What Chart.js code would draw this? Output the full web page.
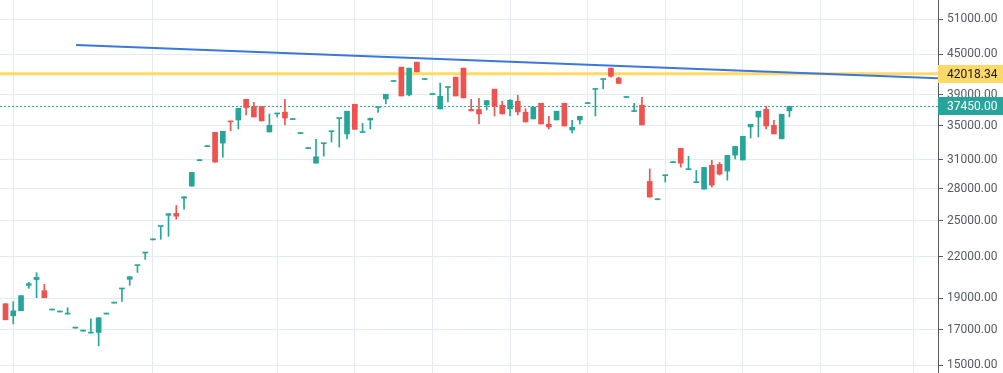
<!DOCTYPE html>
<html>
<head>
<meta charset="utf-8">
<script src="https://cdn.jsdelivr.net/npm/chart.js@4"></script>
<style>
    html, body { margin: 0; padding: 0; background: #ffffff; }
    #wrap { width: 1003px; height: 373px; position: relative; }
</style>
</head>
<body>
<div id="wrap"><canvas id="chart"></canvas></div>
<script>
// candle values (one per bar)
const opens = [
    18650, 17870, 18190, 19900, 20310, 19530, 18240, 18110, 17980, 17110,
    16930, 16810, 16850, 17980, 18690, 19650, 20330, 21340, 22310, 23370,
    24500, 25490, 25660, 27080, 28260, 30920, 32490, 34180, 32900, 35540,
    35700, 38410, 37440, 37440, 34220, 36470, 36690, 35750, 34020, 32260,
    30650, 32830, 34250, 35880, 33980, 37740, 34150, 35700, 37300, 38450,
    40900, 43030, 39000, 43790, 41190, 39060, 37120, 40040, 41530, 42880,
    37040, 37040, 37650, 39800, 37610, 37120, 38140, 36690, 35830, 37870,
    35160, 35700, 37870, 34460, 35700, 37830, 39770, 41190, 42880, 41400,
    38650, 36780, 37610, 28730, 26930, 29320, 30700, 32290, 29950, 28610,
    27960, 30410, 30520, 29800, 31530, 30990, 34830, 36080, 37080, 35040,
    33400, 36860,
];
const highs = [
    18650, 18780, 19190, 20110, 20810, 19970, 18240, 18110, 18390, 17110,
    16930, 17680, 17750, 17980, 18690, 19650, 20520, 21340, 22310, 23370,
    24500, 25630, 26390, 27220, 29660, 30920, 32490, 34180, 34300, 35540,
    37210, 38410, 38010, 37440, 36470, 36560, 38410, 35750, 34020, 32260,
    33340, 32830, 34250, 35880, 36820, 37740, 35290, 35920, 37300, 39100,
    40900, 43030, 42880, 43790, 41190, 39060, 40660, 40040, 41530, 42880,
    38410, 38540, 38230, 39800, 38140, 38370, 38960, 37170, 37380, 37870,
    36170, 36820, 37870, 35660, 36170, 37830, 39770, 41190, 42880, 41530,
    38650, 37870, 38690, 30030, 26930, 29320, 30700, 32290, 31390, 29870,
    30190, 30950, 30730, 31500, 32520, 33700, 35160, 36820, 37480, 35660,
    36430, 37480,
];
const lows = [
    17620, 17370, 18190, 19690, 19050, 19050, 18240, 18110, 17980, 17110,
    16930, 16810, 16070, 17980, 18690, 18800, 19900, 20830, 21810, 23370,
    23420, 23660, 25140, 26050, 28260, 30920, 32490, 30760, 31310, 34340,
    34580, 36340, 36080, 35580, 34220, 36080, 35080, 35750, 34020, 32260,
    30650, 31420, 33020, 32440, 33400, 34540, 34150, 34580, 36650, 37780,
    40900, 38860, 38860, 42320, 41190, 39060, 37120, 38050, 38860, 38600,
    36860, 35200, 36990, 36210, 36470, 36210, 36340, 35450, 35830, 35200,
    34580, 35700, 34950, 34090, 35200, 37830, 36210, 39840, 41530, 40620,
    38650, 36780, 35080, 27190, 26930, 28670, 30700, 30220, 29950, 28610,
    27960, 28160, 29380, 28860, 31120, 30990, 33500, 33620, 34580, 33980,
    33400, 36080,
];
const closes = [
    17620, 18190, 19190, 20020, 20470, 19050, 18240, 18110, 17980, 17110,
    16930, 16810, 17750, 17980, 18690, 19650, 20520, 21340, 22310, 23370,
    24500, 25630, 25410, 27220, 29660, 30920, 32490, 30760, 34300, 35460,
    37210, 37300, 36080, 35580, 35040, 36560, 35950, 35750, 34020, 32260,
    31350, 32830, 34250, 35880, 36820, 34540, 34150, 35920, 37300, 39100,
    40900, 38860, 42880, 42320, 41190, 39060, 38820, 40040, 38860, 38600,
    36860, 36470, 38230, 37480, 36470, 38280, 36730, 35450, 37380, 35200,
    34830, 36820, 34950, 34790, 36170, 37830, 39770, 41190, 41660, 40620,
    38650, 36780, 35080, 27190, 26930, 29320, 30700, 30650, 29950, 28610,
    30190, 28360, 29480, 31500, 32520, 33700, 35160, 36820, 34950, 33980,
    36430, 37450,
];

const yTicks = [15000, 17000, 19000, 22000, 25000, 28000, 31000, 35000, 39000, 45000, 51000];
const xGridAt = [1, 19, 35, 45, 55, 65, 75, 85, 95, 105, 117];

const trendX = [9.1, 120.2];
const trendY = [46510, 41370];
const levelLine = 42018.34;
const lastPrice = 37450;

const UP = '#26a69a';
const DOWN = '#ef5350';
const GRID = '#e3ebf1';

const candleColors = opens.map((o, i) => (closes[i] < o ? DOWN : UP));
const bodies = opens.map((o, i) => ({ x: i, y: [o, closes[i]] }));
const wicks = lows.map((l, i) => ({ x: i, y: [l, highs[i]] }));

const xMin = -0.71;
const xMax = 120.14;

const priceBadges = {
    id: 'priceBadges',
    afterDraw(chart) {
        const ctx = chart.ctx;
        const y = chart.scales.y;
        const left = chart.chartArea.right;
        const badges = [
            { value: levelLine, bg: '#ffd966', fg: '#131722' },
            { value: lastPrice, bg: UP, fg: '#ffffff' },
        ];
        ctx.save();
        badges.forEach((b) => {
            const py = y.getPixelForValue(b.value);
            ctx.fillStyle = b.bg;
            ctx.fillRect(left, Math.round(py) - 9, chart.width - left, 18);
            ctx.fillStyle = b.fg;
            ctx.font = '12px Roboto, sans-serif';
            ctx.textBaseline = 'middle';
            ctx.textAlign = 'left';
            ctx.fillText(b.value.toFixed(2), left + 9, Math.round(py) + 0.5);
        });
        ctx.restore();
    },
};

function initChart() {
    const canvas = document.getElementById('chart');

    // eslint-disable-next-line no-new
    new Chart(canvas, {
        type: 'bar',
        data: {
            datasets: [
                {
                    type: 'line',
                    data: trendX.map((x, i) => ({ x, y: trendY[i] })),
                    borderColor: '#3b78db',
                    borderWidth: 2,
                    pointRadius: 0,
                    order: 5,
                },
                {
                    type: 'line',
                    data: [{ x: xMin, y: levelLine }, { x: xMax, y: levelLine }],
                    borderColor: 'rgba(255, 214, 90, 0.9)',
                    borderWidth: 3,
                    pointRadius: 0,
                    order: 6,
                },
                {
                    type: 'line',
                    data: [{ x: xMin, y: lastPrice }, { x: xMax, y: lastPrice }],
                    borderColor: UP,
                    borderWidth: 1,
                    borderDash: [2, 2],
                    pointRadius: 0,
                    order: 4,
                },
                {
                    data: wicks,
                    backgroundColor: candleColors,
                    barThickness: 1,
                    minBarLength: 1,
                    grouped: false,
                    order: 2,
                },
                {
                    data: bodies,
                    backgroundColor: candleColors,
                    barThickness: 5,
                    minBarLength: 1,
                    grouped: false,
                    order: 1,
                },
            ],
        },
        options: {
            responsive: true,
            maintainAspectRatio: false,
            animation: false,
            layout: { padding: 0 },
            plugins: {
                legend: { display: false },
                tooltip: { enabled: false },
            },
            scales: {
                x: {
                    type: 'linear',
                    min: xMin,
                    max: xMax,
                    offset: false,
                    afterBuildTicks: (scale) => {
                        scale.ticks = xGridAt.map((v) => ({ value: v }));
                    },
                    afterFit: (scale) => {
                        scale.height = 0;
                        scale.paddingLeft = 0;
                        scale.paddingRight = 0;
                    },
                    ticks: { display: false },
                    grid: { color: GRID, drawTicks: false, offset: false },
                    border: { display: false },
                },
                y: {
                    type: 'logarithmic',
                    position: 'right',
                    min: 14600,
                    max: 54550,
                    afterBuildTicks: (scale) => {
                        scale.ticks = yTicks.map((v) => ({ value: v }));
                    },
                    afterFit: (scale) => {
                        scale.width = 65;
                        scale.paddingTop = 0;
                        scale.paddingBottom = 0;
                    },
                    ticks: {
                        color: '#555a63',
                        font: { family: 'Roboto', size: 12 },
                        padding: 4,
                        autoSkip: false,
                        callback: (v) => Number(v).toFixed(2),
                    },
                    grid: { color: GRID, tickColor: '#555a63', tickLength: 5 },
                    border: { display: true, color: '#555a63', width: 1 },
                },
            },
        },
        plugins: [priceBadges],
    });
}

if (document.readyState === 'loading') {
    document.addEventListener('DOMContentLoaded', initChart);
} else {
    initChart();
}
</script>
</body>
</html>
